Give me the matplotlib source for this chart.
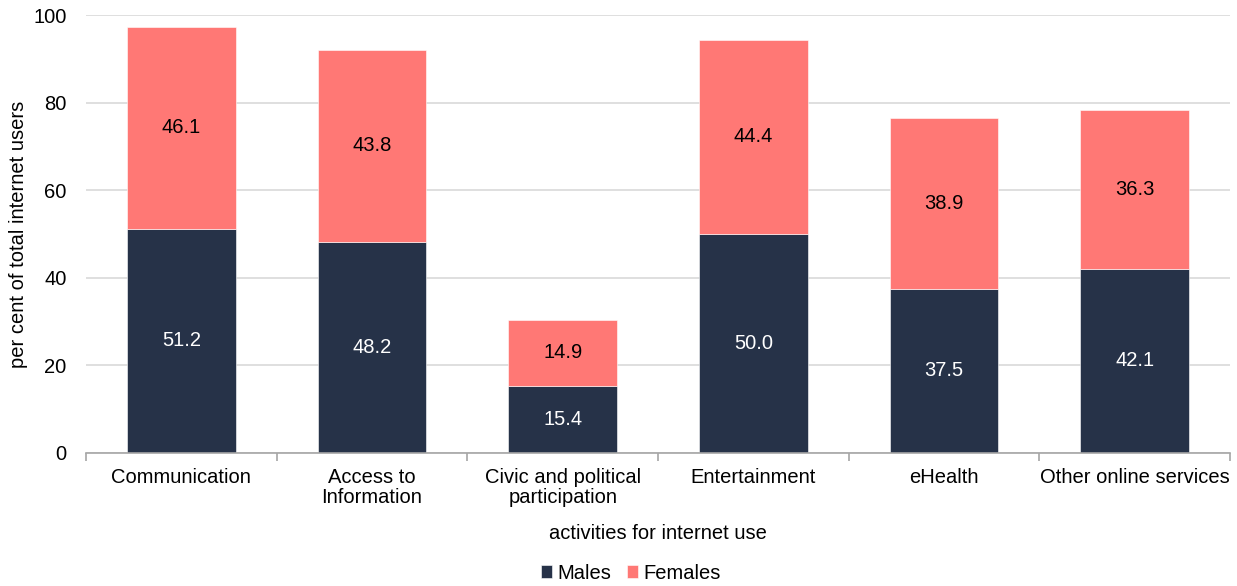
import matplotlib
matplotlib.use("Agg")
import matplotlib.pyplot as plt
import numpy as np

categories = ["Communication", "Access to\nInformation", "Civic and political\nparticipation",
              "Entertainment", "eHealth", "Other online services"]
males = [51.2, 48.2, 15.4, 50.0, 37.5, 42.1]
females = [46.1, 43.8, 14.9, 44.4, 38.9, 36.3]
yticks = [0, 20, 40, 60, 80, 100]

plt.rcParams['font.family'] = ['Liberation Sans', 'DejaVu Sans']
fs = 14.5
fig = plt.figure(figsize=(12.37, 5.86), dpi=100)
ax = fig.add_axes([0.0695, 0.227, 0.925, 0.7474])

c_m = "#263248"
c_f = "#FF7875"
x = np.arange(len(categories))
w = 0.57
b1 = ax.bar(x, males, w, color=c_m, label="Males", zorder=3, edgecolor="white", linewidth=0.4)
b2 = ax.bar(x, females, w, bottom=males, color=c_f, label="Females", zorder=3, edgecolor="white", linewidth=0.4)

for i in range(len(categories)):
    ax.text(x[i], males[i] / 2, f"{males[i]:.1f}", ha="center", va="center", color="white", fontsize=fs, zorder=4)
    ax.text(x[i], males[i] + females[i] / 2, f"{females[i]:.1f}", ha="center", va="center", color="black", fontsize=fs, zorder=4)

ax.set_ylim(0, 100)
ax.set_xlim(-0.5, len(categories) - 0.5)
ax.set_yticks(yticks)
ax.set_xticks(x)
ax.set_xticklabels(categories, fontsize=fs, linespacing=1.05)
ax.tick_params(axis="x", length=0, pad=11)
ax.set_xticks(np.arange(-0.5, len(categories), 1.0), minor=True)
ax.tick_params(axis="x", which="minor", length=6, color="#A6A6A6", width=1.2)
ax.tick_params(axis="y", length=0, labelsize=fs, pad=14)
ax.yaxis.grid(True, color="#D9D9D9", linewidth=1.2, zorder=0)
for s in ["top", "right", "left"]:
    ax.spines[s].set_visible(False)
ax.spines["bottom"].set_color("#A6A6A6")
ax.spines["bottom"].set_linewidth(1.2)
ax.spines["bottom"].set_zorder(5)

ax.set_ylabel("per cent of total internet users", fontsize=fs)
ax.yaxis.set_label_coords(-0.051, 0.5)
ax.set_xlabel("activities for internet use", fontsize=fs, labelpad=12)

fig.legend(handles=[b1, b2], labels=["Males", "Females"], loc="center", bbox_to_anchor=(0.51, 0.022),
           ncol=2, frameon=False, fontsize=fs, handlelength=0.55, handleheight=0.55, columnspacing=0.8,
           handletextpad=0.25)

fig.savefig("out.png", dpi=100)
